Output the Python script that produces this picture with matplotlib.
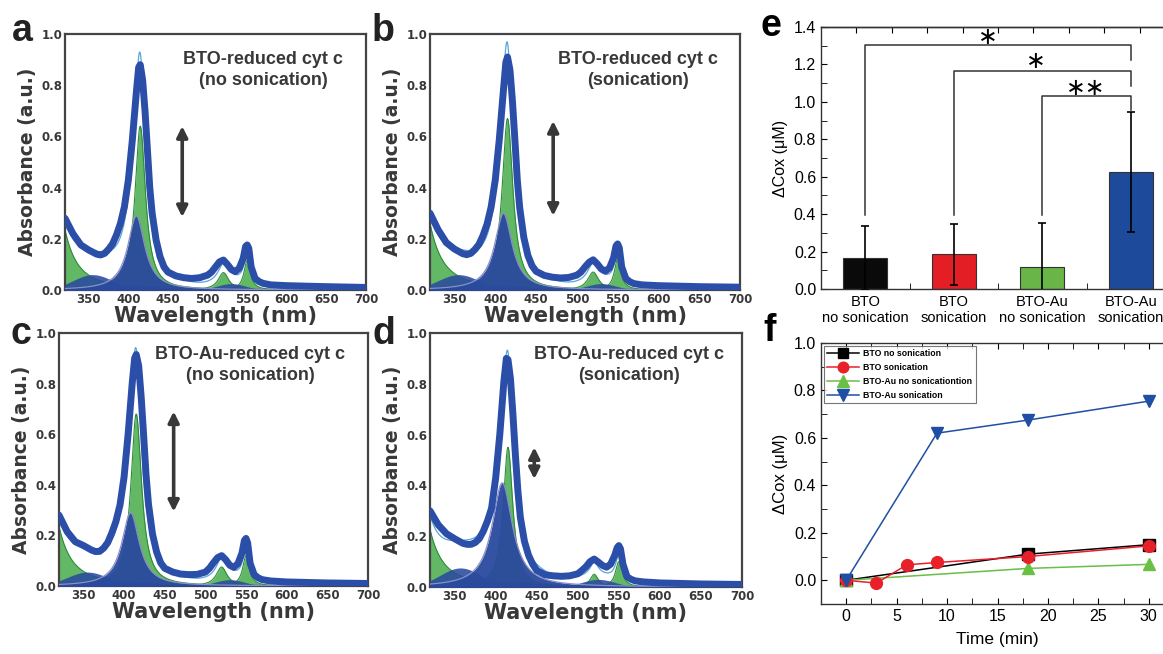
import matplotlib
matplotlib.use("Agg")
import numpy as np
import matplotlib.pyplot as plt

# ---------------- data ----------------
wl = [320, 330, 340, 350, 360, 365, 370, 375, 380, 385, 390, 395, 400, 405, 410, 413, 415, 418, 421,
      424, 427, 430, 435, 440, 445, 450, 460, 470, 480, 490, 500, 505, 510, 515, 520, 525, 530, 535,
      540, 545, 548, 550, 552, 555, 560, 565, 570, 580, 600, 650, 700]
abs_a = [0.28, 0.22, 0.176, 0.156, 0.14, 0.137, 0.143, 0.159, 0.18, 0.215, 0.26, 0.325, 0.43, 0.585, 0.77,
         0.87, 0.88, 0.82, 0.70, 0.55, 0.40, 0.30, 0.195, 0.13, 0.09, 0.07, 0.055, 0.048, 0.045, 0.048,
         0.058, 0.07, 0.09, 0.11, 0.117, 0.10, 0.08, 0.072, 0.085, 0.124, 0.17, 0.176, 0.163, 0.09, 0.045,
         0.033, 0.026, 0.02, 0.017, 0.013, 0.01]
abs_b = [0.30, 0.235, 0.185, 0.16, 0.142, 0.138, 0.143, 0.158, 0.178, 0.213, 0.258, 0.325, 0.43, 0.59, 0.78,
         0.89, 0.91, 0.86, 0.74, 0.59, 0.43, 0.32, 0.205, 0.135, 0.095, 0.073, 0.057, 0.05, 0.047, 0.049,
         0.058, 0.07, 0.09, 0.108, 0.118, 0.102, 0.082, 0.074, 0.086, 0.125, 0.172, 0.18, 0.165, 0.09, 0.045,
         0.032, 0.025, 0.02, 0.017, 0.013, 0.011]
abs_c = [0.28, 0.215, 0.175, 0.16, 0.142, 0.136, 0.137, 0.15, 0.172, 0.21, 0.255, 0.32, 0.43, 0.6, 0.8,
         0.9, 0.915, 0.87, 0.75, 0.6, 0.44, 0.325, 0.205, 0.135, 0.092, 0.07, 0.055, 0.047, 0.045, 0.046,
         0.055, 0.07, 0.092, 0.112, 0.12, 0.104, 0.082, 0.074, 0.088, 0.13, 0.18, 0.188, 0.17, 0.09, 0.045,
         0.032, 0.025, 0.02, 0.016, 0.012, 0.01]
abs_d = [0.30, 0.245, 0.21, 0.19, 0.172, 0.168, 0.168, 0.175, 0.19, 0.22, 0.26, 0.31, 0.43, 0.6, 0.81,
         0.90, 0.895, 0.82, 0.68, 0.52, 0.38, 0.275, 0.18, 0.125, 0.09, 0.065, 0.048, 0.044, 0.042, 0.044,
         0.052, 0.065, 0.08, 0.10, 0.11, 0.098, 0.085, 0.078, 0.09, 0.125, 0.155, 0.163, 0.15, 0.09, 0.04,
         0.03, 0.024, 0.02, 0.016, 0.012, 0.01]

# fitted peak components: centers (nm), heights, half widths (nm)
green_c_a = [300, 415, 520, 550]; green_h_a = [0.56, 0.64, 0.068, 0.115]; green_w_a = [17, 8, 8, 5]
green_c_b = [300, 415, 520, 550]; green_h_b = [0.62, 0.67, 0.07, 0.12]; green_w_b = [17, 8, 8, 5]
green_c_c = [300, 415, 520, 550]; green_h_c = [0.56, 0.68, 0.075, 0.12]; green_w_c = [17, 8, 8, 5]
green_c_d = [300, 415, 520, 550]; green_h_d = [0.54, 0.55, 0.05, 0.10]; green_w_d = [17, 7, 6, 5]
blue_c_a = [410]; blue_h_a = [0.29]; blue_w_a = [13]
blue_c_b = [410]; blue_h_b = [0.30]; blue_w_b = [13]
blue_c_c = [408]; blue_h_c = [0.29]; blue_w_c = [13]
blue_c_d = [408]; blue_h_d = [0.41]; blue_w_d = [15]
broad_c_a = [355, 530, 380]; broad_h_a = [0.06, 0.025, 0.02]; broad_w_a = [25, 18, 60]
broad_c_b = [355, 530, 380]; broad_h_b = [0.06, 0.025, 0.02]; broad_w_b = [25, 18, 60]
broad_c_c = [355, 530, 380]; broad_h_c = [0.055, 0.025, 0.02]; broad_w_c = [25, 18, 60]
broad_c_d = [357, 525, 380]; broad_h_d = [0.075, 0.03, 0.025]; broad_w_d = [25, 20, 70]

titles = ["BTO-reduced cyt c\n(no sonication)", "BTO-reduced cyt c\n(sonication)",
          "BTO-Au-reduced cyt c\n(no sonication)", "BTO-Au-reduced cyt c\n(sonication)"]
arrow_x = [468, 471, 461, 447]
arrow_top = [0.64, 0.66, 0.69, 0.55]
arrow_bot = [0.285, 0.29, 0.294, 0.425]

groups = ["BTO\nno sonication", "BTO\nsonication", "BTO-Au\nno sonication", "BTO-Au\nsonication"]
dcox_mean = [0.165, 0.185, 0.12, 0.625]
dcox_err = [0.17, 0.163, 0.235, 0.32]
bar_colors = ["#0a0a0a", "#e31e24", "#6ab547", "#1d4a9b"]

t_bto_ns = [0, 18, 30]; y_bto_ns = [0.0, 0.11, 0.15]
t_bto_s = [0, 3, 6, 9, 18, 30]; y_bto_s = [0.0, -0.012, 0.065, 0.075, 0.10, 0.145]
t_au_ns = [0, 18, 30]; y_au_ns = [0.0, 0.05, 0.067]
t_au_s = [0, 9, 18, 30]; y_au_s = [0.0, 0.62, 0.675, 0.755]
series_labels = ["BTO no sonication", "BTO sonication", "BTO-Au no sonicationtion", "BTO-Au sonication"]

# ---------------- figure ----------------
W, H = 1163, 654
fig = plt.figure(figsize=(W / 100, H / 100), dpi=100)
GRAY = "#383838"


def ax_px(l, r, t, b):
    return fig.add_axes([l / W, 1 - b / H, (r - l) / W, (b - t) / H])


def lor(x, c, h, w):
    return h / (1 + ((x - c) / w) ** 2)


def gau(x, c, h, s):
    return h * np.exp(-((x - c) ** 2) / (2 * s ** 2))


def spectrum(ax, main, g, b, br, title, tpos, k):
    x = np.linspace(320, 700, 761)
    total = np.zeros_like(x)
    for c, h, w in zip(*g):
        y = lor(x, c, h, w); total += y
        ax.fill_between(x, 0, y, color="#4cae4f", alpha=0.88, lw=0, zorder=2)
        ax.plot(x, y, color="#2e8b3e", lw=0.8, zorder=2)
    for c, h, s in zip(*br):
        y = gau(x, c, h, s); total += y
        ax.fill_between(x, 0, y, color="#2a4a9e", alpha=0.88, lw=0, zorder=3)
    for c, h, w in zip(*b):
        y = lor(x, c, h, w); total += y
        ax.fill_between(x, 0, y, color="#2a4a9e", alpha=0.95, lw=0, zorder=3)
        ax.plot(x, y, color="#8a90c8", lw=0.9, zorder=3)
    ax.plot(x, total, color="#5aa7d8", lw=0.9, zorder=3.5)
    ax.plot(wl, main, color="#2b4ea8", lw=5, solid_capstyle="round", solid_joinstyle="round", zorder=4)
    ax.set_xlim(320, 700); ax.set_ylim(0, 1.0)
    ax.set_xticks(range(350, 701, 50)); ax.set_yticks(np.arange(0, 1.01, 0.2))
    ax.set_yticklabels([f"{v:.1f}" for v in np.arange(0, 1.01, 0.2)])
    ax.tick_params(length=0, pad=2, labelsize=8.5, colors=GRAY)
    for tl in ax.get_xticklabels() + ax.get_yticklabels():
        tl.set_fontweight("bold")
    for s in ax.spines.values():
        s.set_color("#444444"); s.set_linewidth(1.6)
    ax.set_xlabel("Wavelength (nm)", fontsize=15, fontweight="bold", color=GRAY, labelpad=0)
    ax.set_ylabel("Absorbance (a.u.)", fontsize=13.5, fontweight="bold", color=GRAY, labelpad=3)
    ax.text(tpos[0], tpos[1], title, ha="center", va="center", fontsize=13, fontweight="bold",
            family="Liberation Sans", color=GRAY, linespacing=1.3, zorder=6)
    ax.annotate("", xy=(arrow_x[k], arrow_top[k]), xytext=(arrow_x[k], arrow_bot[k]),
                arrowprops=dict(arrowstyle="<|-|>", color=GRAY, lw=2.6, mutation_scale=16,
                                shrinkA=0, shrinkB=0), zorder=6)


axa = ax_px(65, 366, 34, 290)
axb = ax_px(430, 740, 34, 290)
axc = ax_px(59, 368, 333, 586)
axd = ax_px(430, 742, 333, 587)
spectrum(axa, abs_a, (green_c_a, green_h_a, green_w_a), (blue_c_a, blue_h_a, blue_w_a),
         (broad_c_a, broad_h_a, broad_w_a), titles[0], (570, 0.86), 0)
spectrum(axb, abs_b, (green_c_b, green_h_b, green_w_b), (blue_c_b, blue_h_b, blue_w_b),
         (broad_c_b, broad_h_b, broad_w_b), titles[1], (575, 0.86), 1)
spectrum(axc, abs_c, (green_c_c, green_h_c, green_w_c), (blue_c_c, blue_h_c, blue_w_c),
         (broad_c_c, broad_h_c, broad_w_c), titles[2], (555, 0.873), 2)
spectrum(axd, abs_d, (green_c_d, green_h_d, green_w_d), (blue_c_d, blue_h_d, blue_w_d),
         (broad_c_d, broad_h_d, broad_w_d), titles[3], (562, 0.873), 3)

# ---------------- panel e ----------------
axe = ax_px(821, 1175, 27, 289)
xpos = np.arange(1, len(groups) + 1)
axe.bar(xpos, dcox_mean, width=0.5, color=bar_colors, edgecolor="#333333", lw=0.8, zorder=2)
axe.errorbar(xpos, dcox_mean, yerr=dcox_err, fmt="none", ecolor="black", elinewidth=1.2,
             capsize=3, capthick=1.2, zorder=3)
brackets = [(1, 1.306, 1.225, 0.394), (2, 1.163, 1.083, 0.394), (3, 1.03, 0.955, 0.394)]
for x0, ytop, yend, ybot in brackets:
    axe.plot([x0, x0, 4, 4], [ybot, ytop, ytop, yend], color="#333333", lw=1.1, zorder=4)
axe.text(2.387, 1.347, "∗", ha="center", va="center", fontsize=17, family="DejaVu Sans")
axe.text(2.93, 1.218, "∗", ha="center", va="center", fontsize=17, family="DejaVu Sans")
axe.text(3.49, 1.076, "∗∗", ha="center", va="center", fontsize=17, family="DejaVu Sans")
axe.set_xlim(0.5, 4.5); axe.set_ylim(0, 1.4)
axe.set_xticks(xpos); axe.set_xticklabels(groups, fontsize=10.5, family="Liberation Sans", linespacing=1.2)
axe.set_xticks([1.5, 2.5, 3.5], minor=True)
axe.tick_params(axis="x", which="major", length=0, pad=4)
axe.tick_params(axis="x", which="minor", length=4, direction="in")
axe.set_yticks(np.arange(0, 1.41, 0.2))
axe.set_yticklabels([f"{v:.1f}" for v in np.arange(0, 1.41, 0.2)], fontsize=11.5, family="Liberation Sans")
axe.set_yticks(np.arange(0.1, 1.4, 0.2), minor=True)
axe.tick_params(axis="y", which="both", direction="in", length=4)
axe.set_ylabel("ΔCox (μM)", fontsize=11.5, family="Liberation Sans", labelpad=4)
sec = axe.secondary_xaxis("top")
sec.set_xticks(np.arange(0.9, 4.5, 0.4)); sec.set_xticklabels([])
sec.tick_params(direction="in", length=4)
for s in list(axe.spines.values()) + [sec.spines["top"]]:
    s.set_color("#333333"); s.set_linewidth(1.0)

# ---------------- panel f ----------------
axf = ax_px(821, 1174, 343, 604)
axf.plot(t_bto_ns, y_bto_ns, color="black", marker="s", ms=8, lw=1.1, label=series_labels[0], zorder=3)
axf.plot(t_bto_s, y_bto_s, color="#e8202a", marker="o", ms=8.5, lw=1.1, label=series_labels[1], zorder=4)
axf.plot(t_au_ns, y_au_ns, color="#6abf45", marker="^", ms=9, lw=1.1, label=series_labels[2], zorder=3)
axf.plot(t_au_s, y_au_s, color="#1f4fa3", marker="v", ms=9, lw=1.1, label=series_labels[3], zorder=5)
axf.set_xlim(-2.5, 32.5); axf.set_ylim(-0.1, 1.0)
axf.set_xticks(range(0, 31, 5)); axf.set_xticks(np.arange(-2.5, 32.6, 2.5), minor=True)
axf.set_yticks(np.arange(0, 1.01, 0.2)); axf.set_yticks(np.arange(-0.1, 1.0, 0.2), minor=True)
axf.set_yticklabels([f"{v:.1f}" for v in np.arange(0, 1.01, 0.2)])
axf.tick_params(which="both", direction="in", length=4, top=True, labelsize=11.5)
for tl in axf.get_xticklabels() + axf.get_yticklabels():
    tl.set_family("Liberation Sans")
axf.set_xlabel("Time (min)", fontsize=12.5, family="Liberation Sans", labelpad=6)
axf.set_ylabel("ΔCox (μM)", fontsize=12, family="Liberation Sans", labelpad=4)
for s in axf.spines.values():
    s.set_color("#333333"); s.set_linewidth(1.0)
leg = axf.legend(loc="upper left", prop={"family": "Liberation Sans", "weight": "bold", "size": 6.3},
                 frameon=True, fancybox=False, edgecolor="#555555", handlelength=3.6, borderpad=0.4,
                 labelspacing=0.55, handletextpad=0.5, borderaxespad=0.3, markerscale=0.9)
leg.get_frame().set_linewidth(0.8)

# ---------------- panel letters ----------------
for letter, x, y, col in [("a", 12, 41, "#222222"), ("b", 372, 41, "#222222"), ("c", 10, 344, "#222222"),
                          ("d", 373, 344, "#222222"), ("e", 761, 36, "black"), ("f", 763, 341, "black")]:
    fig.text(x / W, 1 - y / H, letter, fontsize=27, fontweight="bold", family="Liberation Sans",
             color=col, ha="left", va="baseline")

fig.savefig("out.png", dpi=100)
